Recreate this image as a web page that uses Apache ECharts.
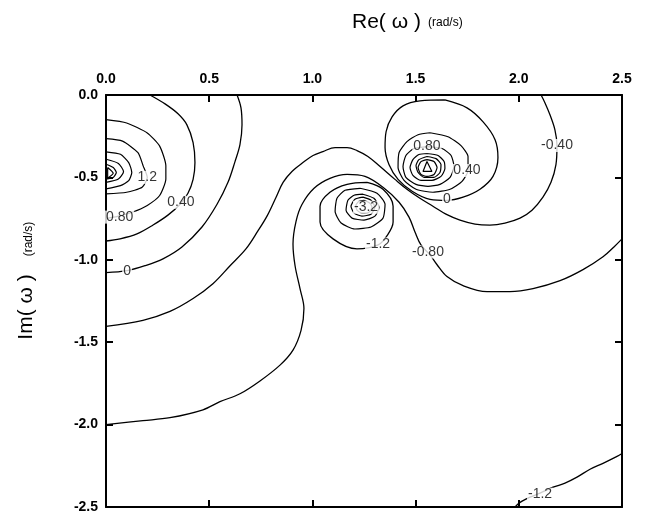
<!DOCTYPE html>
<html>
<head>
<meta charset="utf-8">
<script src="https://cdn.jsdelivr.net/npm/echarts@6/dist/echarts.min.js"></script>
<style>
html,body{margin:0;padding:0;background:#fff;}
#chart{width:652px;height:514px;}
</style>
</head>
<body>
<div id="chart"></div>
<script>
// ---- axis ticks ----
const xTicks = [0.0, 0.5, 1.0, 1.5, 2.0, 2.5];
const yTicks = [0.0, -0.5, -1.0, -1.5, -2.0, -2.5];

// ---- contour lines: [Re, Im] ----
// left pole
const cL080 = [[0,-0.15],[0.10,-0.17],[0.20,-0.23],[0.26,-0.31],[0.29,-0.43],[0.29,-0.51],[0.26,-0.61],[0.20,-0.67],[0.13,-0.71],[0.06,-0.735],[0,-0.75]];
const cL120 = [[0,-0.265],[0.08,-0.28],[0.155,-0.35],[0.18,-0.43],[0.20,-0.50],[0.175,-0.56],[0.10,-0.59],[0,-0.60]];
const cL160 = [[0,-0.345],[0.07,-0.36],[0.11,-0.41],[0.125,-0.47],[0.11,-0.52],[0.07,-0.55],[0,-0.57]];
const cL200 = [[0,-0.39],[0.06,-0.415],[0.085,-0.465],[0.06,-0.51],[0,-0.53]];
const cL240 = [[0,-0.42],[0.035,-0.44],[0.05,-0.47],[0.035,-0.50],[0,-0.51]];
const cL280 = [[0.008,-0.44],[0.035,-0.475],[0.008,-0.505],[0.008,-0.44]];
const cL040 = [[0.213,0],[0.286,-0.054],[0.349,-0.114],[0.392,-0.181],[0.422,-0.289],[0.431,-0.41],[0.422,-0.512],[0.397,-0.596],[0.359,-0.663],[0.30,-0.729],[0.228,-0.789],[0.15,-0.843],[0.068,-0.873],[0,-0.886]];
const cL000 = [[0.635,0],[0.654,-0.078],[0.659,-0.181],[0.649,-0.301],[0.625,-0.404],[0.591,-0.53],[0.538,-0.663],[0.465,-0.801],[0.368,-0.922],[0.276,-0.994],[0.189,-1.036],[0.102,-1.066],[0,-1.078]];
// long curves
const cM040 = [[0,-1.404],[0.179,-1.367],[0.31,-1.313],[0.422,-1.235],[0.518,-1.145],[0.601,-1.036],[0.678,-0.934],[0.736,-0.825],[0.78,-0.735],[0.824,-0.62],[0.858,-0.53],[0.901,-0.464],[0.954,-0.41],[1.003,-0.367],[1.051,-0.343],[1.11,-0.319],[1.168,-0.319],[1.216,-0.337],[1.269,-0.373],[1.328,-0.434],[1.40,-0.512],[1.458,-0.572],[1.521,-0.627],[1.584,-0.675],[1.647,-0.723],[1.715,-0.759],[1.788,-0.783],[1.86,-0.789],[1.933,-0.777],[2.006,-0.747],[2.064,-0.699],[2.117,-0.62],[2.156,-0.53],[2.18,-0.422],[2.185,-0.307],[2.175,-0.211],[2.151,-0.12],[2.127,-0.048],[2.108,0]];
const cM080 = [[0,-2.0],[0.179,-1.976],[0.31,-1.958],[0.47,-1.91],[0.552,-1.861],[0.649,-1.813],[0.746,-1.735],[0.843,-1.639],[0.906,-1.548],[0.945,-1.428],[0.959,-1.295],[0.94,-1.175],[0.916,-1.036],[0.906,-0.904],[0.921,-0.765],[0.95,-0.663],[1.008,-0.566],[1.085,-0.506],[1.168,-0.482],[1.255,-0.494],[1.342,-0.56],[1.42,-0.651],[1.468,-0.741],[1.497,-0.831],[1.526,-0.91],[1.57,-0.97],[1.604,-1.03],[1.652,-1.102],[1.73,-1.157],[1.846,-1.193],[1.957,-1.193],[2.069,-1.175],[2.20,-1.127],[2.311,-1.06],[2.408,-0.982],[2.461,-0.922],[2.5,-0.873]];
const cB120 = [[1.982,-2.5],[1.996,-2.482],[2.016,-2.464],[2.054,-2.44],[2.103,-2.416],[2.166,-2.38],[2.224,-2.355],[2.282,-2.319],[2.345,-2.271],[2.408,-2.235],[2.476,-2.193],[2.5,-2.175]];
// negative pole
const cN120 = [[1.265,-0.53],[1.342,-0.572],[1.391,-0.675],[1.391,-0.771],[1.361,-0.855],[1.318,-0.91],[1.216,-0.934],[1.10,-0.873],[1.037,-0.771],[1.037,-0.675],[1.085,-0.59],[1.168,-0.542],[1.265,-0.53]];
const cN160 = [[1.231,-0.566],[1.313,-0.596],[1.352,-0.663],[1.342,-0.747],[1.284,-0.801],[1.206,-0.813],[1.139,-0.777],[1.11,-0.705],[1.119,-0.627],[1.158,-0.578],[1.231,-0.566]];
const cN200 = [[1.245,-0.602],[1.298,-0.627],[1.323,-0.681],[1.303,-0.735],[1.25,-0.759],[1.192,-0.747],[1.163,-0.699],[1.172,-0.639],[1.202,-0.608],[1.245,-0.602]];
const cN240 = [[1.245,-0.62],[1.284,-0.639],[1.303,-0.681],[1.284,-0.723],[1.24,-0.735],[1.202,-0.717],[1.187,-0.675],[1.206,-0.633],[1.245,-0.62]];
const cN280 = [[1.25,-0.639],[1.279,-0.657],[1.289,-0.681],[1.274,-0.711],[1.24,-0.717],[1.216,-0.699],[1.211,-0.669],[1.226,-0.645],[1.25,-0.639]];
// right pole
const cR000 = [[1.642,-0.03],[1.749,-0.078],[1.827,-0.163],[1.885,-0.271],[1.899,-0.38],[1.875,-0.494],[1.812,-0.572],[1.73,-0.62],[1.652,-0.639],[1.57,-0.633],[1.483,-0.584],[1.415,-0.512],[1.371,-0.422],[1.352,-0.319],[1.357,-0.223],[1.386,-0.133],[1.439,-0.066],[1.521,-0.036],[1.642,-0.03]];
const cR040 = [[1.57,-0.229],[1.657,-0.253],[1.72,-0.307],[1.754,-0.373],[1.754,-0.458],[1.725,-0.524],[1.667,-0.572],[1.584,-0.59],[1.502,-0.572],[1.444,-0.518],[1.415,-0.44],[1.42,-0.349],[1.458,-0.283],[1.512,-0.241],[1.57,-0.229]];
const cR080 = [[1.56,-0.313],[1.628,-0.325],[1.672,-0.367],[1.686,-0.434],[1.667,-0.50],[1.618,-0.542],[1.56,-0.554],[1.502,-0.542],[1.453,-0.50],[1.439,-0.434],[1.453,-0.367],[1.492,-0.325],[1.56,-0.313]];
const cR120 = [[1.555,-0.355],[1.609,-0.367],[1.638,-0.404],[1.642,-0.446],[1.623,-0.494],[1.579,-0.518],[1.526,-0.518],[1.487,-0.488],[1.473,-0.44],[1.487,-0.392],[1.516,-0.361],[1.555,-0.355]];
const cR160 = [[1.555,-0.373],[1.599,-0.386],[1.623,-0.422],[1.618,-0.47],[1.589,-0.50],[1.541,-0.50],[1.512,-0.47],[1.502,-0.428],[1.516,-0.392],[1.555,-0.373]];
const cR200 = [[1.555,-0.392],[1.589,-0.404],[1.604,-0.44],[1.589,-0.482],[1.555,-0.494],[1.526,-0.482],[1.512,-0.44],[1.526,-0.404],[1.555,-0.392]];
const cR240 = [[1.555,-0.404],[1.579,-0.464],[1.536,-0.464],[1.555,-0.404]];

// ---- contour labels: [Re, Im, text] ----
const contourLabels = [
  [0.20,-0.50,'1.2'],[0.066,-0.741,'0.80'],[0.363,-0.651,'0.40'],[0.102,-1.066,'0'],
  [1.26,-0.681,'-3.2'],[1.318,-0.904,'-1.2'],[1.56,-0.952,'-0.80'],
  [1.555,-0.313,'0.80'],[1.749,-0.458,'0.40'],[1.652,-0.633,'0'],
  [2.185,-0.307,'-0.40'],[2.103,-2.422,'-1.2']
];

const smoothLines = [cL040, cL000, cM040, cM080, cB120, cR000, cN120];
const polyLines = [cL080, cL120, cL160, cL200, cL240, cL280, cN160, cN200, cN240, cN280, cR040, cR080, cR120, cR160, cR200, cR240];

const font = '"Liberation Sans", Arial, Helvetica, sans-serif';
const series = [];
smoothLines.forEach(d => series.push({type:'line', data:d, smooth:0.35, symbol:'none', silent:true,
  lineStyle:{color:'#000', width:1.3}, z:2}));
polyLines.forEach(d => series.push({type:'line', data:d, smooth:0.2, symbol:'none', silent:true,
  lineStyle:{color:'#000', width:1.2}, z:2}));
series.push({
  type:'scatter', symbolSize:0, silent:true, z:5,
  data: contourLabels.map(l => ({value:[l[0], l[1]], name:l[2]})),
  label:{show:true, position:'inside', formatter:p => p.name, color:'#000',
    fontFamily:font, fontSize:14, backgroundColor:'#fff', padding:[0,1,0,1], lineHeight:13}
});

const tickLbl = v => Number(v).toFixed(1);
const axisCommon = {
  type:'value', splitLine:{show:false},
  axisLine:{show:true, onZero:false, lineStyle:{color:'#000', width:2}},
  axisTick:{show:true, inside:true, length:7, lineStyle:{color:'#000', width:2}}
};

const chart = echarts.init(document.getElementById('chart'), null, {renderer:'canvas'});
chart.setOption({
  animation:false,
  backgroundColor:'#fff',
  grid:{left:106, top:95, width:516, height:415, containLabel:false},
  xAxis:[
    Object.assign({}, axisCommon, {position:'top', min:0, max:2.5, interval:0.5,
      axisLabel:{show:true, margin:9, color:'#000', fontWeight:'bold', fontFamily:font, fontSize:14, formatter:tickLbl}}),
    Object.assign({}, axisCommon, {position:'bottom', min:0, max:2.5, interval:0.5, axisLabel:{show:false}})
  ],
  yAxis:[
    Object.assign({}, axisCommon, {position:'left', min:-2.5, max:0, interval:0.5,
      axisLabel:{show:true, margin:8, color:'#000', fontWeight:'bold', fontFamily:font, fontSize:14, formatter:tickLbl}}),
    Object.assign({}, axisCommon, {position:'right', min:-2.5, max:0, interval:0.5, axisLabel:{show:false}})
  ],
  graphic:[
    {type:'text', x:352, y:22, style:{text:'Re( ω )', fill:'#000', font:'21px ' + font, textAlign:'left', textVerticalAlign:'middle', verticalAlign:'middle'}},
    {type:'text', x:428, y:23, style:{text:'(rad/s)', fill:'#000', font:'12px ' + font, textAlign:'left', textVerticalAlign:'middle', verticalAlign:'middle'}},
    {type:'text', x:26, y:307, rotation:Math.PI/2, style:{text:'Im( ω )', fill:'#000', font:'21px ' + font, textAlign:'center', textVerticalAlign:'middle', verticalAlign:'middle'}},
    {type:'text', x:29, y:239, rotation:Math.PI/2, style:{text:'(rad/s)', fill:'#000', font:'12px ' + font, textAlign:'center', textVerticalAlign:'middle', verticalAlign:'middle'}}
  ],
  series: series
});
</script>
</body>
</html>
